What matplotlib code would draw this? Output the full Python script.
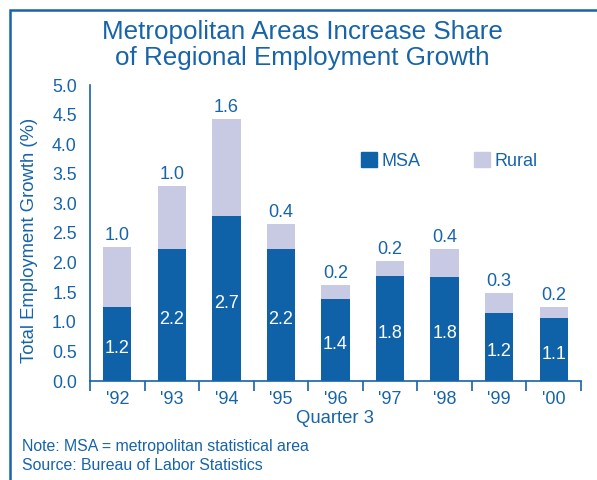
import numpy as np
import matplotlib
matplotlib.use('Agg')
import matplotlib.pyplot as plt
from matplotlib.patches import Rectangle, Patch

# Data (Quarter 3 employment growth, %)
years = ["'92", "'93", "'94", "'95", "'96", "'97", "'98", "'99", "'00"]
msa = [1.25, 2.23, 2.79, 2.23, 1.39, 1.77, 1.76, 1.15, 1.06]
rural = [1.02, 1.06, 1.63, 0.43, 0.23, 0.25, 0.47, 0.34, 0.19]
msa_labels = ['1.2', '2.2', '2.7', '2.2', '1.4', '1.8', '1.8', '1.2', '1.1']
rural_labels = ['1.0', '1.0', '1.6', '0.4', '0.2', '0.2', '0.4', '0.3', '0.2']

BLUE = '#0f62a7'
TEXT = '#1764a9'
LIGHT = '#c8cae3'

plt.rcParams['font.family'] = ['Liberation Sans', 'DejaVu Sans']

W, H = 597, 480
fig = plt.figure(figsize=(W / 100, H / 100), dpi=100)
ax = fig.add_axes([90 / W, 1 - 381 / H, (581 - 90) / W, (381 - 85) / H])

x = np.arange(len(years))
msa = np.array(msa)
rural = np.array(rural)
ax.bar(x, msa, width=0.52, color=BLUE, label='MSA')
ax.bar(x, rural, width=0.52, bottom=msa, color=LIGHT, label='Rural')

# value labels
for i in range(len(years)):
    ax.text(x[i], msa[i] / 2 - 0.08, msa_labels[i], ha='center', va='center',
            color='white', fontsize=13)
    ax.text(x[i], msa[i] + rural[i] + 0.05, rural_labels[i], ha='center',
            va='bottom', color=TEXT, fontsize=13)

ax.set_xlim(-0.5, len(years) - 0.5)
ax.set_ylim(0, 5)

# axes styling
for s in ['top', 'right']:
    ax.spines[s].set_visible(False)
for s in ['left', 'bottom']:
    ax.spines[s].set_color(TEXT)
    ax.spines[s].set_linewidth(1.2)

ax.set_yticks(np.arange(0, 5.01, 0.5))
ax.set_yticklabels(['%.1f' % v for v in np.arange(0, 5.01, 0.5)])
ax.set_yticks(np.arange(0, 6), minor=True)
ax.tick_params(axis='y', which='major', length=0, pad=9.5, labelsize=12.8,
               labelcolor=TEXT)
ax.tick_params(axis='y', which='minor', length=6, width=1.2, color=TEXT)

ax.set_xticks(x)
ax.set_xticklabels(years)
ax.set_xticks(np.arange(-0.5, len(years)), minor=True)
ax.tick_params(axis='x', which='major', length=0, pad=7.5, labelsize=13,
               labelcolor=TEXT)
ax.tick_params(axis='x', which='minor', length=7, width=1.2, color=TEXT)

ax.set_ylabel('Total Employment Growth (%)', color=TEXT, fontsize=13.3)
ax.yaxis.set_label_coords(-0.105, 0.476)
ax.set_xlabel('Quarter 3', color=TEXT, fontsize=13.3, labelpad=1)

# legend
handles = [Patch(color=BLUE), Patch(color=LIGHT)]
fig.legend(handles, ['MSA', 'Rural'], loc='center left',
           bbox_to_anchor=(361 / W, 1 - 161 / H), ncol=2, frameon=False,
           fontsize=13, handlelength=0.89, handleheight=0.89,
           handletextpad=0.22, columnspacing=3.0, borderpad=0,
           borderaxespad=0, labelcolor=TEXT)

# title
fig.text(302 / W, 1 - 32 / H, 'Metropolitan Areas Increase Share',
         ha='center', va='center', color=TEXT, fontsize=18.7)
fig.text(302 / W, 1 - 58 / H, 'of Regional Employment Growth',
         ha='center', va='center', color=TEXT, fontsize=18.7)

# notes
fig.text(22 / W, 1 - 446 / H, 'Note: MSA = metropolitan statistical area',
         ha='left', va='center', color=TEXT, fontsize=11.4)
fig.text(22 / W, 1 - 465 / H, 'Source: Bureau of Labor Statistics',
         ha='left', va='center', color=TEXT, fontsize=11.4)

# outer frame (cropped on the right and bottom)
fig.patches.append(Rectangle((10 / W, -0.2), 1.2, 1.2 - 10 / H,
                             transform=fig.transFigure, fill=False,
                             edgecolor=TEXT, linewidth=1.8))

fig.savefig('out.png', dpi=100)
